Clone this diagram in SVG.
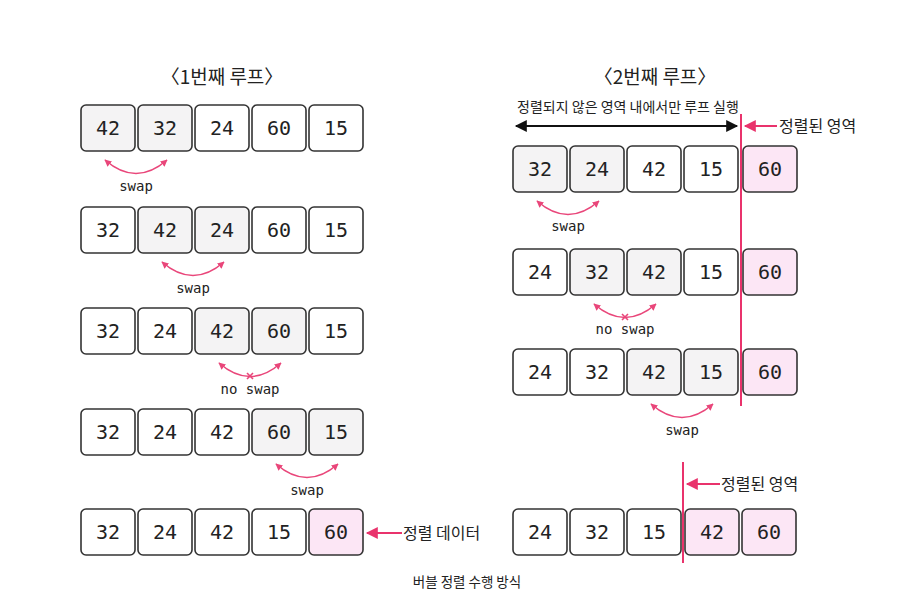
<svg xmlns="http://www.w3.org/2000/svg" width="897" height="611" viewBox="0 0 897 611">
<style>
.b{fill:#fff;stroke:#333;stroke-width:1.6}
.g{fill:#f4f3f4;stroke:#333;stroke-width:1.6}
.p{fill:#fce6f5;stroke:#333;stroke-width:1.6}
.n{font-family:"DejaVu Sans Mono",monospace;font-size:20px;fill:#222;text-anchor:middle}
.s{font-family:"DejaVu Sans Mono",monospace;font-size:14px;fill:#222;text-anchor:middle}
.k{font-family:"Noto Sans CJK KR","Noto Sans",sans-serif;fill:#222}
.arc{fill:none;stroke:#e9467a;stroke-width:1.6}
.red{stroke:#e9336c;stroke-width:2;fill:none}
</style>
<defs>
<marker id="ah" viewBox="0 0 10 10" refX="9" refY="5" markerWidth="7" markerHeight="7" orient="auto-start-reverse" markerUnits="userSpaceOnUse"><path d="M0,0 L10,5 L0,10 z" fill="#e9467a"/></marker>
<marker id="bk" viewBox="0 0 10 10" refX="9" refY="5" markerWidth="14" markerHeight="12" orient="auto-start-reverse" markerUnits="userSpaceOnUse"><path d="M0,0 L10,5 L0,10 z" fill="#111"/></marker>
<marker id="pk" viewBox="0 0 10 10" refX="9" refY="5" markerWidth="14" markerHeight="12" orient="auto" markerUnits="userSpaceOnUse"><path d="M0,0 L10,5 L0,10 z" fill="#e9336c"/></marker>
</defs>

<text class="k" x="222" y="84" font-size="19" text-anchor="middle">〈1번째 루프〉</text>
<text class="k" x="655" y="84" font-size="19" text-anchor="middle">〈2번째 루프〉</text>

<!-- Left loop -->
<g id="L1">
<rect class="g" x="81" y="105" width="54" height="46" rx="5"/><text class="n" x="108" y="135">42</text>
<rect class="g" x="138" y="105" width="54" height="46" rx="5"/><text class="n" x="165" y="135">32</text>
<rect class="b" x="195" y="105" width="54" height="46" rx="5"/><text class="n" x="222" y="135">24</text>
<rect class="b" x="252" y="105" width="54" height="46" rx="5"/><text class="n" x="279" y="135">60</text>
<rect class="b" x="309" y="105" width="54" height="46" rx="5"/><text class="n" x="336" y="135">15</text>
</g>
<g id="L2">
<rect class="b" x="81" y="207" width="54" height="46" rx="5"/><text class="n" x="108" y="237">32</text>
<rect class="g" x="138" y="207" width="54" height="46" rx="5"/><text class="n" x="165" y="237">42</text>
<rect class="g" x="195" y="207" width="54" height="46" rx="5"/><text class="n" x="222" y="237">24</text>
<rect class="b" x="252" y="207" width="54" height="46" rx="5"/><text class="n" x="279" y="237">60</text>
<rect class="b" x="309" y="207" width="54" height="46" rx="5"/><text class="n" x="336" y="237">15</text>
</g>
<g id="L3">
<rect class="b" x="81" y="308" width="54" height="46" rx="5"/><text class="n" x="108" y="338">32</text>
<rect class="b" x="138" y="308" width="54" height="46" rx="5"/><text class="n" x="165" y="338">24</text>
<rect class="g" x="195" y="308" width="54" height="46" rx="5"/><text class="n" x="222" y="338">42</text>
<rect class="g" x="252" y="308" width="54" height="46" rx="5"/><text class="n" x="279" y="338">60</text>
<rect class="b" x="309" y="308" width="54" height="46" rx="5"/><text class="n" x="336" y="338">15</text>
</g>
<g id="L4">
<rect class="b" x="81" y="409" width="54" height="46" rx="5"/><text class="n" x="108" y="439">32</text>
<rect class="b" x="138" y="409" width="54" height="46" rx="5"/><text class="n" x="165" y="439">24</text>
<rect class="b" x="195" y="409" width="54" height="46" rx="5"/><text class="n" x="222" y="439">42</text>
<rect class="g" x="252" y="409" width="54" height="46" rx="5"/><text class="n" x="279" y="439">60</text>
<rect class="g" x="309" y="409" width="54" height="46" rx="5"/><text class="n" x="336" y="439">15</text>
</g>
<g id="L5">
<rect class="b" x="81" y="509" width="54" height="46" rx="5"/><text class="n" x="108" y="539">32</text>
<rect class="b" x="138" y="509" width="54" height="46" rx="5"/><text class="n" x="165" y="539">24</text>
<rect class="b" x="195" y="509" width="54" height="46" rx="5"/><text class="n" x="222" y="539">42</text>
<rect class="b" x="252" y="509" width="54" height="46" rx="5"/><text class="n" x="279" y="539">15</text>
<rect class="p" x="309" y="509" width="54" height="46" rx="5"/><text class="n" x="336" y="539">60</text>
</g>

<!-- Right loop -->
<g id="R1">
<rect class="g" x="513" y="146" width="54" height="46" rx="5"/><text class="n" x="540" y="176">32</text>
<rect class="g" x="570" y="146" width="54" height="46" rx="5"/><text class="n" x="597" y="176">24</text>
<rect class="b" x="627" y="146" width="54" height="46" rx="5"/><text class="n" x="654" y="176">42</text>
<rect class="b" x="684" y="146" width="54" height="46" rx="5"/><text class="n" x="711" y="176">15</text>
<rect class="p" x="743" y="146" width="54" height="46" rx="5"/><text class="n" x="770" y="176">60</text>
</g>
<g id="R2">
<rect class="b" x="513" y="249" width="54" height="46" rx="5"/><text class="n" x="540" y="279">24</text>
<rect class="g" x="570" y="249" width="54" height="46" rx="5"/><text class="n" x="597" y="279">32</text>
<rect class="g" x="627" y="249" width="54" height="46" rx="5"/><text class="n" x="654" y="279">42</text>
<rect class="b" x="684" y="249" width="54" height="46" rx="5"/><text class="n" x="711" y="279">15</text>
<rect class="p" x="743" y="249" width="54" height="46" rx="5"/><text class="n" x="770" y="279">60</text>
</g>
<g id="R3">
<rect class="b" x="513" y="349" width="54" height="46" rx="5"/><text class="n" x="540" y="379">24</text>
<rect class="b" x="570" y="349" width="54" height="46" rx="5"/><text class="n" x="597" y="379">32</text>
<rect class="g" x="627" y="349" width="54" height="46" rx="5"/><text class="n" x="654" y="379">42</text>
<rect class="g" x="684" y="349" width="54" height="46" rx="5"/><text class="n" x="711" y="379">15</text>
<rect class="p" x="743" y="349" width="54" height="46" rx="5"/><text class="n" x="770" y="379">60</text>
</g>
<g id="R4">
<rect class="b" x="513" y="509" width="54" height="46" rx="5"/><text class="n" x="540" y="539">24</text>
<rect class="b" x="570" y="509" width="54" height="46" rx="5"/><text class="n" x="597" y="539">32</text>
<rect class="b" x="627" y="509" width="54" height="46" rx="5"/><text class="n" x="654" y="539">15</text>
<rect class="p" x="685" y="509" width="54" height="46" rx="5"/><text class="n" x="712" y="539">42</text>
<rect class="p" x="742" y="509" width="54" height="46" rx="5"/><text class="n" x="769" y="539">60</text>
</g>

<g id="connectors">
<path class="arc" d="M105,160 Q136,187 167,160" marker-start="url(#ah)" marker-end="url(#ah)"/>
<path class="arc" d="M162,262 Q193,289 224,262" marker-start="url(#ah)" marker-end="url(#ah)"/>
<path class="arc" d="M219,363 Q250,390 281,363" marker-start="url(#ah)" marker-end="url(#ah)"/>
<path class="arc" d="M276,464 Q307,491 338,464" marker-start="url(#ah)" marker-end="url(#ah)"/>
<path class="arc" d="M537,201 Q568,228 599,201" marker-start="url(#ah)" marker-end="url(#ah)"/>
<path class="arc" d="M594,304 Q625,331 656,304" marker-start="url(#ah)" marker-end="url(#ah)"/>
<path class="arc" d="M651,404 Q682,431 713,404" marker-start="url(#ah)" marker-end="url(#ah)"/>
<path class="arc" d="M247,373 l6,6 M253,373 l-6,6"/>
<path class="arc" d="M622,314 l6,6 M628,314 l-6,6"/>
<line x1="516" y1="126" x2="737" y2="126" stroke="#111" stroke-width="2.2" marker-start="url(#bk)" marker-end="url(#bk)"/>
<line class="red" x1="741" y1="114" x2="741" y2="406"/>
<line class="red" x1="683" y1="462" x2="683" y2="563"/>
<line class="red" x1="777" y1="126" x2="745" y2="126" marker-end="url(#pk)"/>
<line class="red" x1="720" y1="484" x2="687" y2="484" marker-end="url(#pk)"/>
<line class="red" x1="402" y1="533" x2="367" y2="533" marker-end="url(#pk)"/>
</g>

<text class="s" x="136" y="191">swap</text>
<text class="s" x="193" y="293">swap</text>
<text class="s" x="250" y="394">no swap</text>
<text class="s" x="307" y="495">swap</text>
<text class="s" x="568" y="231">swap</text>
<text class="s" x="625" y="334">no swap</text>
<text class="s" x="682" y="435">swap</text>

<text class="k" x="628" y="112" font-size="14" text-anchor="middle">정렬되지 않은 영역 내에서만 루프 실행</text>
<text class="k" x="779" y="132" font-size="16">정렬된 영역</text>
<text class="k" x="721" y="490" font-size="16">정렬된 영역</text>
<text class="k" x="403" y="539" font-size="16">정렬 데이터</text>
<text class="k" x="467" y="587" font-size="13.5" text-anchor="middle">버블 정렬 수행 방식</text>
</svg>
